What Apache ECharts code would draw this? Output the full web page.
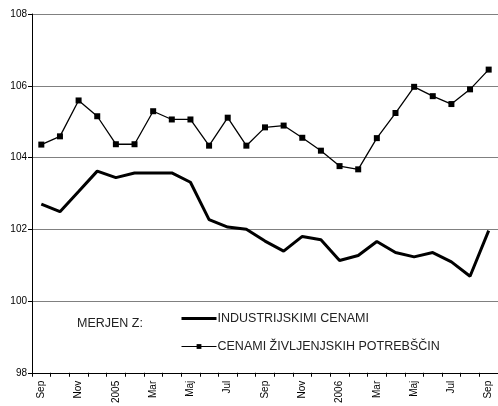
<!DOCTYPE html>
<html><head><meta charset="utf-8">
<script src="https://cdn.jsdelivr.net/npm/echarts@6/dist/echarts.min.js"></script>
<style>html,body{margin:0;padding:0;background:#fff}#c{width:498px;height:406px}</style>
</head><body><div id="c"></div>
<script>
const categories = ['Sep','Okt','Nov','Dec','2005','Feb','Mar','Apr','Maj','Jun','Jul','Avg','Sep','Okt','Nov','Dec','2006','Feb','Mar','Apr','Maj','Jun','Jul','Avg','Sep'];
const industrial = [102.70,102.49,103.05,103.62,103.44,103.57,103.57,103.57,103.31,102.27,102.06,102.00,101.67,101.39,101.80,101.71,101.13,101.27,101.66,101.35,101.23,101.35,101.09,100.69,101.96];
const consumer = [104.36,104.59,105.59,105.15,104.37,104.37,105.29,105.06,105.06,104.33,105.11,104.33,104.84,104.89,104.55,104.19,103.76,103.67,104.54,105.24,105.97,105.71,105.49,105.90,106.45];
const yTicks = [98,100,102,104,106,108];
const seriesNames = ['INDUSTRIJSKIMI CENAMI','CENAMI ŽIVLJENJSKIH POTREBŠČIN'];
const legendTitle = 'MERJEN Z:';

const chart = echarts.init(document.getElementById('c'));
const font = 'Liberation Sans, Arial, sans-serif';
chart.setOption({
  animation: false,
  grid: {left: 32, right: 0, top: 14, bottom: 33, containLabel: false},
  xAxis: {
    type: 'category', data: categories, boundaryGap: true,
    axisLine: {lineStyle: {color: '#000', width: 1}},
    axisTick: {show: true, alignWithLabel: false, interval: 0, length: 4, lineStyle: {color: '#000'}},
    axisLabel: {rotate: 90, interval: 1, fontSize: 10, fontFamily: font, color: '#000', margin: 8},
    splitLine: {show: false}
  },
  yAxis: {
    type: 'value', min: yTicks[0], max: yTicks[yTicks.length-1], interval: 2,
    axisLine: {show: true, lineStyle: {color: '#000', width: 1}},
    axisTick: {show: true, length: 4, lineStyle: {color: '#000'}},
    axisLabel: {fontSize: 10, fontFamily: font, color: '#000', margin: 5},
    splitLine: {show: true, lineStyle: {color: '#808080', width: 1}}
  },
  legend: {
    orient: 'vertical', left: 180, top: 311, padding: 0, itemWidth: 35, itemHeight: 6, itemGap: 13,
    textStyle: {fontSize: 12.5, fontFamily: font, color: '#222', padding: [0,0,0,-4], lineHeight: 15},
    data: [
      {name: seriesNames[0], itemStyle: {color: 'transparent', borderWidth: 0}, lineStyle: {color: '#000', width: 3}},
      {name: seriesNames[1], itemStyle: {color: '#000'}, lineStyle: {color: '#000', width: 1}}
    ]
  },
  graphic: [{
    type: 'text', left: 77, top: 317,
    style: {text: legendTitle, fontSize: 12.5, fontFamily: font, fill: '#222'}
  }],
  series: [
    {name: seriesNames[0], type: 'line', data: industrial, symbol: 'none',
     lineStyle: {color: '#000', width: 3}, itemStyle: {color: '#000'}},
    {name: seriesNames[1], type: 'line', data: consumer, symbol: 'rect', symbolSize: 6,
     lineStyle: {color: '#000', width: 1.3}, itemStyle: {color: '#000'}}
  ]
});
</script></body></html>
